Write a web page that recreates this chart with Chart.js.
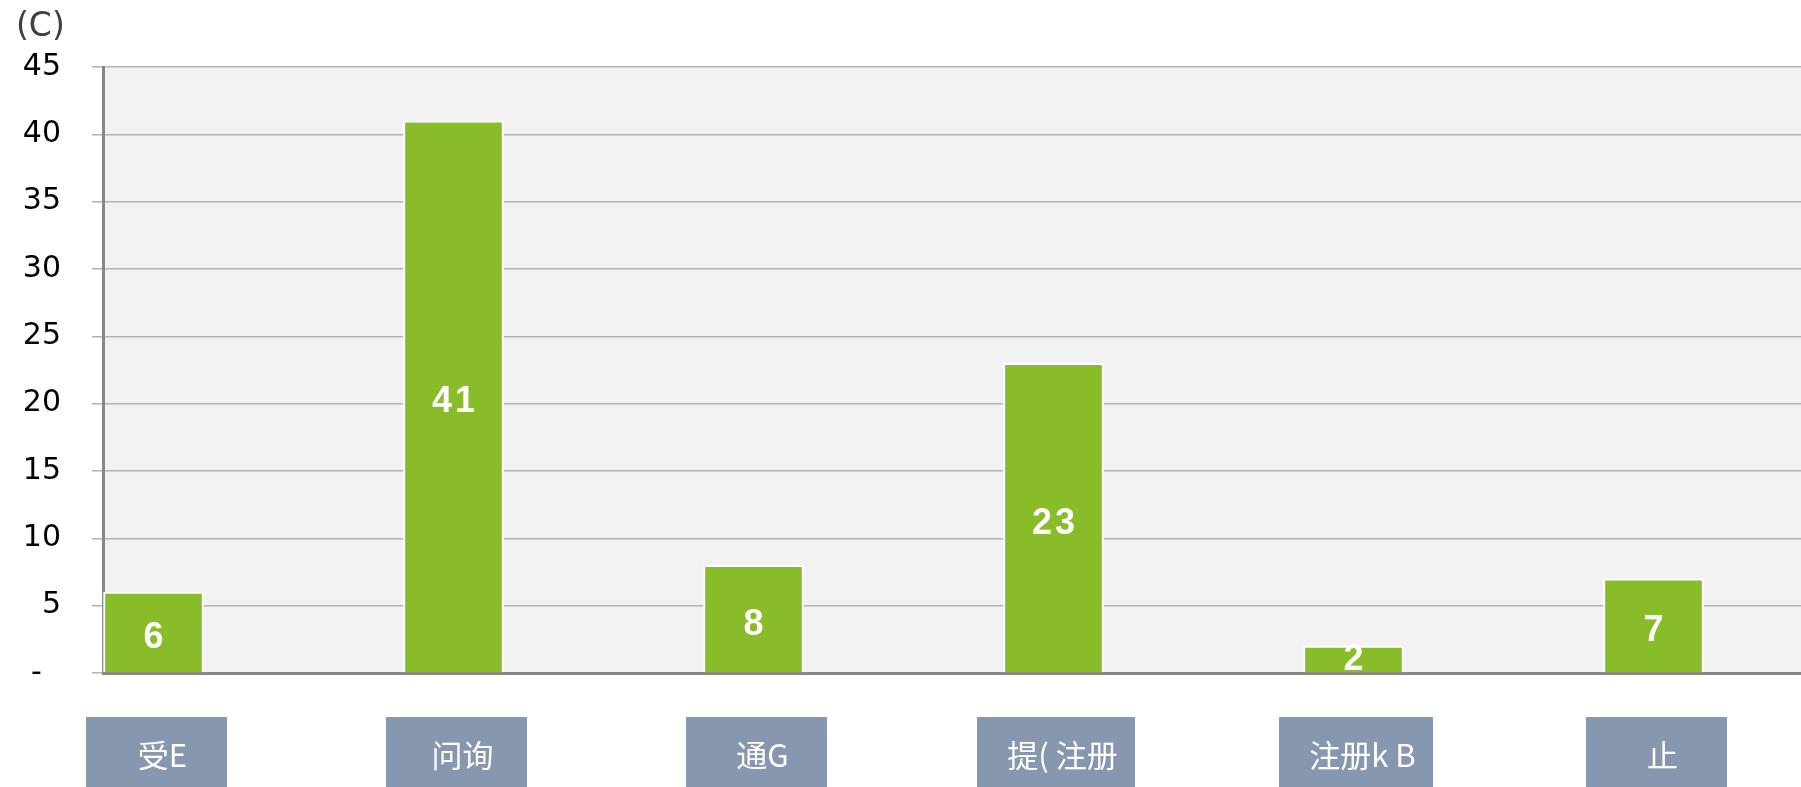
<!DOCTYPE html>
<html>
<head>
<meta charset="utf-8">
<script src="https://cdn.jsdelivr.net/npm/chart.js@4/dist/chart.umd.min.js"></script>
<style>
  html, body { margin: 0; padding: 0; background: #ffffff; overflow: hidden; }
  #wrap { width: 1801px; height: 787px; }
</style>
</head>
<body>
<div id="wrap"><canvas id="chart" width="1801" height="787"></canvas></div>
<script>
  // chart data
  const categories = ["受E", "问询", "通G", "提( 注册", "注册k B", "止"];
  const counts = [6, 41, 8, 23, 2, 7];
  const unitLabel = "(C)";

  const GREEN = "#88bc28";
  const BOX = "#8797b0";
  const AXIS = "#878787";
  const GRID = "#b3b3b3";

  // light grey plot background
  const plotBackground = {
    id: "plotBackground",
    beforeDraw(chart) {
      const { ctx, chartArea: a } = chart;
      ctx.save();
      ctx.fillStyle = "#f2f2f2";
      ctx.fillRect(a.left, a.top, a.right - a.left, a.bottom - a.top);
      ctx.restore();
    }
  };

  // white value in the middle of every bar
  const valueLabels = {
    id: "valueLabels",
    afterDatasetsDraw(chart) {
      const { ctx } = chart;
      const meta = chart.getDatasetMeta(0);
      ctx.save();
      ctx.fillStyle = "#ffffff";
      ctx.font = "bold 36px 'Liberation Sans', Arial, sans-serif";
      ctx.letterSpacing = "3px";
      ctx.textAlign = "center";
      ctx.textBaseline = "middle";
      meta.data.forEach((bar, i) => {
        const half = (bar.base - bar.y) / 2;
        const shift = Math.max(0, Math.min(6, half - 12));
        ctx.fillText(String(counts[i]), bar.x + 1.5, bar.y + half + shift);
      });
      ctx.restore();
    }
  };

  // category names sit in blue-grey boxes under the axis
  const categoryBoxes = {
    id: "categoryBoxes",
    afterDraw(chart) {
      const { ctx } = chart;
      const x = chart.scales.x;
      const top = chart.chartArea.bottom + 44;
      ctx.save();
      ctx.font = "31px 'Noto Sans CJK SC', sans-serif";
      ctx.textAlign = "center";
      ctx.textBaseline = "middle";
      categories.forEach((name, i) => {
        const cx = x.getPixelForValue(i) + 3;
        const w = Math.max(141, ctx.measureText(name).width + 48);
        ctx.fillStyle = BOX;
        ctx.fillRect(Math.round(cx - w / 2), top, Math.round(w), 82);
        ctx.fillStyle = "#ffffff";
        ctx.fillText(name, cx + 6, top + 38);
      });
      ctx.restore();
    }
  };

  // unit caption above the value axis
  const unitCaption = {
    id: "unitCaption",
    afterDraw(chart) {
      const { ctx, chartArea: a } = chart;
      ctx.save();
      ctx.fillStyle = "#404040";
      ctx.font = "33px 'DejaVu Sans', sans-serif";
      ctx.textAlign = "left";
      ctx.textBaseline = "middle";
      ctx.fillText(unitLabel, a.left - 87, a.top - 40);
      ctx.restore();
    }
  };

  new Chart(document.getElementById("chart"), {
    type: "bar",
    data: {
      datasets: [{
        data: counts.map((v, i) => ({ x: i, y: v })),
        backgroundColor: GREEN,
        borderColor: "#ffffff",
        borderWidth: 2,
        barThickness: 100
      }]
    },
    options: {
      responsive: false,
      devicePixelRatio: 1,
      animation: false,
      layout: { padding: { top: 67, left: 0, right: 0, bottom: 0 } },
      plugins: {
        legend: { display: false },
        tooltip: { enabled: false },
        title: { display: false }
      },
      scales: {
        x: {
          type: "linear",
          offset: false,
          min: -0.1683,
          max: 5.4917,
          grid: { display: false },
          ticks: { display: false },
          border: { display: true, color: AXIS, width: 3 },
          afterFit(scale) { scale.height = 114; }
        },
        y: {
          min: 0,
          max: 45,
          ticks: {
            stepSize: 5,
            padding: 31,
            color: "#000000",
            font: { family: "'DejaVu Sans', sans-serif", size: 30 },
            callback: (v) => (v === 0 ? "-  " : v)
          },
          grid: { color: GRID, lineWidth: 1.5, tickLength: 11 },
          border: { display: true, color: AXIS, width: 3 },
          afterFit(scale) { scale.width = 103; }
        }
      }
    },
    plugins: [plotBackground, valueLabels, categoryBoxes, unitCaption]
  });
</script>
</body>
</html>
